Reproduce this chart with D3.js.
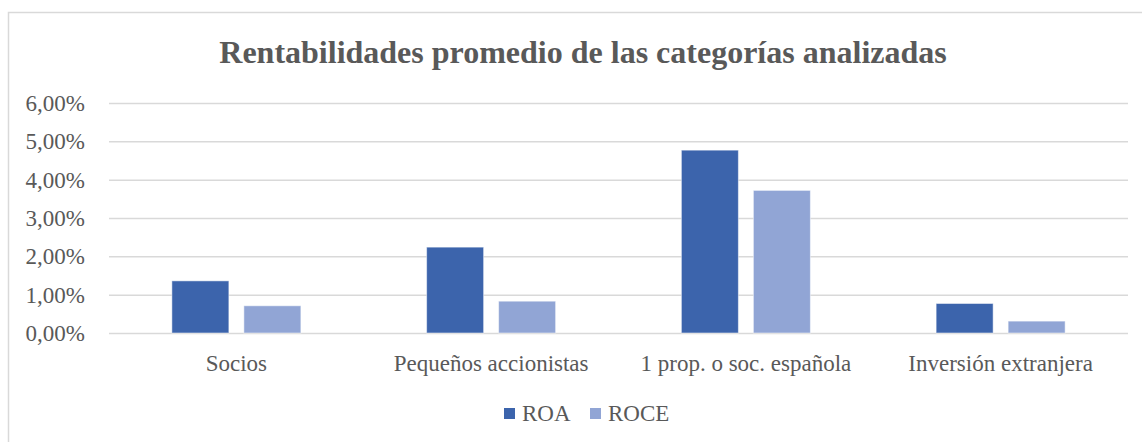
<!DOCTYPE html>
<html>
<head>
<meta charset="utf-8">
<script src="https://cdn.jsdelivr.net/npm/d3@7"></script>
<style>
  body { margin: 0; background: #fff; }
  svg text { font-family: "Liberation Serif", "Times New Roman", serif; fill: #595959; }
  .tick line { stroke: #d9d9d9; stroke-width: 1.5; }
  .tick text { font-size: 23px; }
</style>
</head>
<body>
<svg width="1142" height="442"></svg>
<script>
// data
var categories = ["Socios", "Pequeños accionistas", "1 prop. o soc. española", "Inversión extranjera"];
var series = ["ROA", "ROCE"];
var roa = [1.36, 2.24, 4.77, 0.77];
var roce = [0.71, 0.83, 3.72, 0.31];
var yTicks = [0, 1, 2, 3, 4, 5, 6];
var colors = ["#3c64ac", "#91a5d5"];

var rows = categories.map(function (c, i) {
  return { cat: c, values: [roa[i], roce[i]] };
});

var svg = d3.select("svg");

// chart frame (only top and left edges show in the crop)
svg.append("path")
  .attr("d", "M8.5,460 L8.5,12.5 L1150,12.5")
  .attr("fill", "none")
  .attr("stroke", "#d9d9d9")
  .attr("stroke-width", 1.5);

svg.append("text")
  .attr("x", 583)
  .attr("y", 63)
  .attr("text-anchor", "middle")
  .style("font-size", "32px")
  .style("font-weight", "bold")
  .text("Rentabilidades promedio de las categorías analizadas");

var left = 109, right = 1128;
var x0 = d3.scaleBand().domain(categories).range([left, right]);
var x1 = d3.scaleBand().domain(series).range([0, 129]).paddingInner(0.2083);
var y = d3.scaleLinear().domain([0, 6]).range([333, 103]);

var fmt = function (d) { return d.toFixed(2).replace(".", ",") + "%"; };

var yAxis = d3.axisLeft(y)
  .tickValues(yTicks)
  .tickSize(-(right - left))
  .tickPadding(24)
  .tickFormat(fmt);

svg.append("g")
  .attr("transform", "translate(" + left + ",0)")
  .call(yAxis)
  .call(function (g) { g.select(".domain").remove(); });

var groups = svg.append("g")
  .selectAll("g")
  .data(rows)
  .enter()
  .append("g")
  .attr("transform", function (d) {
    return "translate(" + (x0(d.cat) + (x0.bandwidth() - 129) / 2) + ",0)";
  });

groups.selectAll("rect")
  .data(function (d) { return d.values; })
  .enter()
  .append("rect")
  .attr("x", function (d, i) { return x1(series[i]); })
  .attr("y", function (d) { return y(d); })
  .attr("width", x1.bandwidth())
  .attr("height", function (d) { return y(0) - y(d); })
  .attr("fill", function (d, i) { return colors[i]; })
  .attr("stroke", "#fff")
  .attr("stroke-opacity", 0.5)
  .attr("stroke-width", 1);

// category labels
svg.append("g")
  .selectAll("text")
  .data(categories)
  .enter()
  .append("text")
  .attr("x", function (d) { return x0(d) + x0.bandwidth() / 2; })
  .attr("y", 371)
  .attr("text-anchor", "middle")
  .style("font-size", "23px")
  .text(function (d) { return d; });

// legend
var legendX = [504, 590];
var legend = svg.append("g")
  .selectAll("g")
  .data(series)
  .enter()
  .append("g")
  .attr("transform", function (d, i) { return "translate(" + legendX[i] + ",408)"; });

legend.append("rect")
  .attr("width", 11)
  .attr("height", 11)
  .attr("fill", function (d, i) { return colors[i]; });

legend.append("text")
  .attr("x", 18)
  .attr("y", 13)
  .style("font-size", "23px")
  .text(function (d) { return d; });
</script>
</body>
</html>
